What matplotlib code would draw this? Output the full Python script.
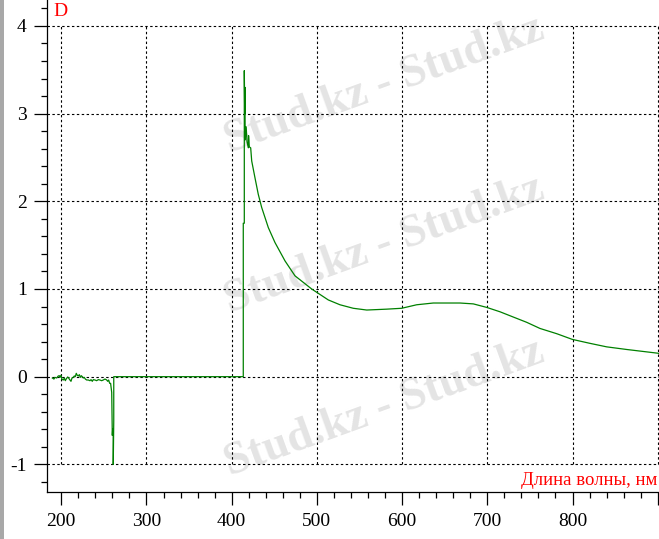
import matplotlib
matplotlib.use("Agg")
import matplotlib.pyplot as plt
import numpy as np
from matplotlib.ticker import MultipleLocator, FixedLocator

# ---- data ----
noise_nm = [189.5, 191.4, 192.6, 194.6, 196.5, 197.7, 198.5, 199.6, 200.8, 202.4,
            203.6, 204.7, 206.3, 207.5, 208.6, 210.2, 211.4, 212.6, 214.1, 215.3,
            216.5, 217.6, 218.8, 220.0, 221.2, 222.3, 223.5, 224.7, 225.9, 227.0,
            228.2, 229.8, 231.7, 233.7, 234.9, 236.4, 237.6, 239.6, 241.5, 243.5,
            245.4, 247.4, 249.3, 251.3, 253.3, 254.5, 255.6, 256.8, 257.9]
noise_d = [-0.015, -0.027, -0.008, -0.015, 0.008, 0.011, -0.008, 0.015, -0.030, -0.038,
           -0.015, -0.046, -0.019, -0.004, -0.015, -0.038, -0.053, -0.015, -0.008, 0.008,
           0.0, 0.038, 0.015, 0.008, 0.023, -0.008, 0.011, 0.0, -0.015, -0.008,
           -0.027, -0.038, -0.038, -0.046, -0.034, -0.053, -0.034, -0.038, -0.046, -0.034,
           -0.038, -0.046, -0.038, -0.027, -0.038, -0.053, -0.038, -0.076, -0.076]

dip_nm = [259.2, 259.9, 260.3, 261.0, 261.0, 261.6, 261.6, 413.6]
dip_d = [-0.18, -0.67, -0.60, -0.60, -1.00, -0.50, 0.0, 0.0]

band_nm = [413.6, 414.8, 414.8, 415.3, 415.6, 415.8, 417.0, 418.0, 419.5, 419.8,
           420.7, 422.3, 423.5, 427.3, 431.2, 435.2, 443.0, 450.8, 462.6, 474.3,
           493.9, 513.4, 527.1, 542.7, 558.5, 581.9, 599.5, 617.1, 636.6, 667.9,
           683.6, 699.3, 714.9, 730.5, 746.2, 761.8, 781.5, 799.8, 820.5, 840.1,
           863.6, 898.0, 902.0]
band_d = [1.75, 1.75, 3.49, 3.00, 3.30, 2.70, 2.85, 2.68, 2.61, 2.75,
          2.62, 2.61, 2.46, 2.27, 2.08, 1.93, 1.70, 1.53, 1.32, 1.15,
          1.00, 0.875, 0.82, 0.78, 0.76, 0.77, 0.78, 0.82, 0.84, 0.84,
          0.83, 0.79, 0.74, 0.68, 0.62, 0.55, 0.49, 0.425, 0.38, 0.34,
          0.31, 0.27, 0.265]

x_ticks = [200, 300, 400, 500, 600, 700, 800, 900]
x_tick_labels = ["200", "300", "400", "500", "600", "700", "800", ""]
y_ticks = [-1, 0, 1, 2, 3, 4]
y_tick_labels = ["-1", "0", "1", "2", "3", "4"]
y_label = "D"
x_label = "Длина волны, нм"
watermark = "Stud.kz - Stud.kz"

wl = noise_nm + dip_nm + band_nm
dd = noise_d + dip_d + band_d

serif = ["Liberation Serif", "DejaVu Serif"]

fig = plt.figure(figsize=(6.59, 5.39), dpi=100)
fig.patch.set_facecolor("white")

# gray strip on the left edge
fig.patches.append(plt.Rectangle((0, 0), 4 / 659, 1, transform=fig.transFigure,
                                 facecolor="#a8a8a8", edgecolor="none", zorder=-2))

# watermarks
for (wx, wy) in [(0.584, 0.842), (0.584, 0.545), (0.584, 0.243)]:
    fig.text(wx, wy, watermark, rotation=20, ha="center", va="center",
             fontsize=33, fontweight="bold", family=serif, color="#e4e4e4",
             zorder=-1)

ax = fig.add_axes([46.7 / 659, 47.3 / 539, 1 - 46.7 / 659, 1 - 47.3 / 539])
ax.set_facecolor("none")
ax.set_xlim(182.9, 901.5)
ax.set_ylim(-1.312, 4.296)

for s in ["top", "right"]:
    ax.spines[s].set_visible(False)
for s in ["left", "bottom"]:
    ax.spines[s].set_linewidth(0.9)

# grid limited to the tick range
ax.hlines(y_ticks, ax.get_xlim()[0], ax.get_xlim()[1], colors="black",
          linestyles=(0, (2.2, 2.2)), linewidth=0.8, zorder=1)
ax.vlines(x_ticks, y_ticks[0], y_ticks[-1], colors="black",
          linestyles=(0, (2.2, 2.2)), linewidth=0.8, zorder=1)

ax.plot(wl, dd, color="#008000", linewidth=0.9, zorder=3)

ax.xaxis.set_major_locator(FixedLocator(x_ticks))
ax.set_xticklabels(x_tick_labels)
ax.xaxis.set_minor_locator(MultipleLocator(20))
ax.yaxis.set_major_locator(FixedLocator(y_ticks))
ax.set_yticklabels(y_tick_labels)
ax.yaxis.set_minor_locator(MultipleLocator(0.2))

ax.tick_params(axis="both", which="major", direction="out", length=9.4, width=0.9,
               color="black", labelsize=14, labelcolor="black")
ax.tick_params(axis="both", which="minor", direction="out", length=4, width=0.9,
               color="black")
ax.tick_params(axis="x", which="major", pad=6)
ax.tick_params(axis="y", which="major", pad=5)
for lbl in ax.get_xticklabels() + ax.get_yticklabels():
    lbl.set_family(serif)

fig.text(53 / 659, 1 - 3 / 539, y_label, ha="left", va="top", fontsize=14,
         family=serif, color="red")
fig.text(657 / 659, 1 - 485 / 539, x_label, ha="right", va="baseline", fontsize=13.5,
         family=serif, color="red")

fig.savefig("out.png", dpi=100)
